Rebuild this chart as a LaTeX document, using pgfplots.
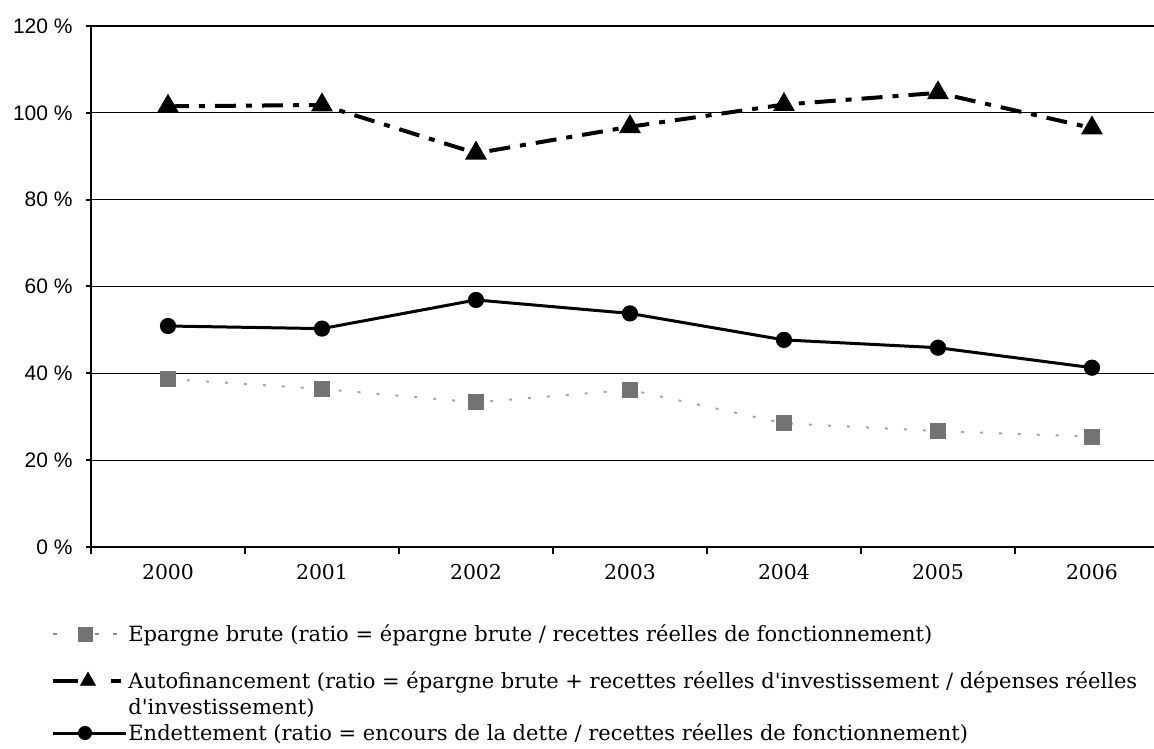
\documentclass[border=0pt]{standalone}
\usepackage{fontspec}
\setmainfont{DejaVu Serif}
\newfontfamily\legfont{DejaVu Serif}
\newfontfamily\tickfont{Liberation Sans}
\usepackage{pgfplots}
\pgfplotsset{compat=1.18}
\begin{document}
\begin{tikzpicture}
\path[use as bounding box] (-45.5pt,-100.5pt) rectangle (531.5pt,273.5pt);
\begin{axis}[
  at={(0,0)}, anchor=south west,
  scale only axis, width=531.5pt, height=260.5pt,
  xmin=-0.5, xmax=6.403, ymin=0, ymax=120,
  axis x line=bottom, axis y line=left,
  axis line style={-, line width=1pt, black},
  xtick={0,...,6}, xticklabels={2000,2001,2002,2003,2004,2005,2006},
  major x tick style={draw=none},
  minor xtick={-0.5,0.5,1.5,2.5,3.5,4.5,5.5},
  minor x tick style={black, line width=1pt},
  minor tick length=3.5pt,
  tick align=outside,
  ytick={0,20,...,120},
  yticklabels={0 \%,20 \%,40 \%,60 \%,80 \%,100 \%,120 \%},
  major tick length=2.5pt,
  y tick style={black, line width=1pt},
  ymajorgrids, grid style={black, line width=0.5pt},
  extra y ticks={120}, extra y tick labels={},
  extra y tick style={grid style={black, line width=1pt}},
  yticklabel style={font=\tickfont\fontsize{10.5}{11}\selectfont, inner sep=0pt, xshift=-6.5pt},
  xticklabel style={font=\legfont\fontsize{10.2}{11}\selectfont, inner sep=0pt, yshift=-6pt},
]
\addplot[black!35, line width=1pt, dash pattern=on 1.5pt off 8pt,
  mark=square*, mark size=3.5pt, mark options={solid, fill=black!55, draw=black!55}]
coordinates {(0,38.7) (1,36.4) (2,33.3) (3,36.2) (4,28.5) (5,26.7) (6,25.4)};
\addplot[black, line width=2pt, dash pattern=on 10.5pt off 5pt on 3pt off 5pt,
  mark=triangle*, mark size=4.3pt, mark options={solid}]
coordinates {(0,101.5) (1,101.8) (2,90.7) (3,96.8) (4,101.9) (5,104.6) (6,96.5)};
\addplot[black, line width=1.5pt, mark=*, mark size=3.3pt]
coordinates {(0,50.9) (1,50.3) (2,56.9) (3,53.8) (4,47.7) (5,45.9) (6,41.3)};
\end{axis}
% legend drawn in a pixel-based overlay axis
\begin{axis}[
  at={(-45.5pt,-100.5pt)}, anchor=south west,
  scale only axis, width=577pt, height=374pt,
  xmin=0, xmax=1154, ymin=0, ymax=748, y dir=reverse,
  hide axis, clip=false,
]
% Epargne brute
\addplot[black!45, line width=1pt, dash pattern=on 2pt off 19pt on 2pt off 7pt on 2pt off 50pt]
  coordinates {(53,634) (117,634)};
\addplot[only marks, mark=square*, mark size=3.5pt, mark options={fill=black!55, draw=black!55}]
  coordinates {(85,634)};
% Autofinancement
\addplot[black, line width=2pt] coordinates {(53,681) (78,681)};
\addplot[black, line width=2pt] coordinates {(111,681) (121,681)};
\addplot[only marks, mark=triangle*, mark size=4.3pt, black] coordinates {(88,681)};
% Endettement
\addplot[black, line width=1.5pt] coordinates {(53,733) (126,733)};
\addplot[only marks, mark=*, mark size=3.3pt, black] coordinates {(85,733)};
\begin{scope}[every node/.style={anchor=base west, inner sep=0pt, font=\legfont\fontsize{10.5}{12}\selectfont}]
\node at (axis cs:128,641) {Epargne brute (ratio = épargne brute / recettes réelles de fonctionnement)};
\node at (axis cs:128,688) {Autofinancement (ratio = épargne brute + recettes réelles d'investissement / dépenses réelles};
\node at (axis cs:128,714) {d'investissement)};
\node at (axis cs:128,740) {Endettement (ratio = encours de la dette / recettes réelles de fonctionnement)};
\end{scope}
\end{axis}
\end{tikzpicture}
\end{document}
